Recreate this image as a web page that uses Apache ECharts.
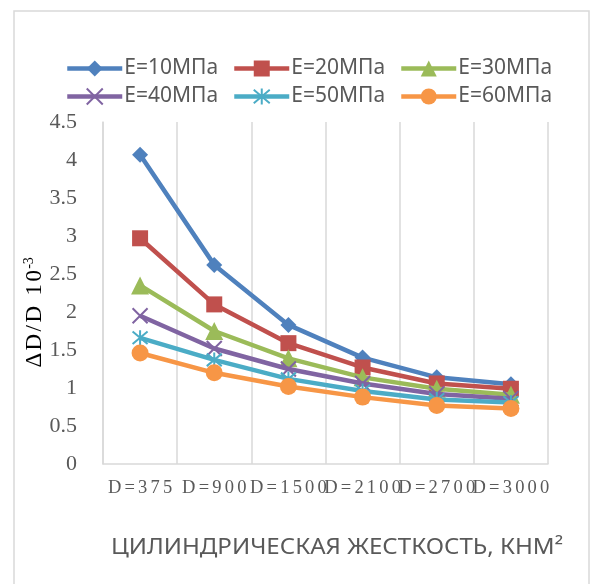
<!DOCTYPE html>
<html>
<head>
<meta charset="utf-8">
<script src="https://cdn.jsdelivr.net/npm/echarts@6/dist/echarts.min.js"></script>
<style>
  html, body { margin: 0; padding: 0; background: #fff; }
  #chart { width: 591px; height: 584px; }
</style>
</head>
<body>
<div id="chart"></div>
<script>
// Cylindrical stiffness categories (x axis)
const categories = ['D=375', 'D=900', 'D=1500', 'D=2100', 'D=2700', 'D=3000'];

// Series names (soil modulus)
const seriesNames = ['E=10МПа', 'E=20МПа', 'E=30МПа', 'E=40МПа', 'E=50МПа', 'E=60МПа'];

// ΔD/D ×10^-3 for each modulus
const e10 = [4.07, 2.62, 1.83, 1.40, 1.14, 1.05];
const e20 = [2.97, 2.10, 1.59, 1.27, 1.06, 0.99];
const e30 = [2.35, 1.75, 1.39, 1.14, 0.99, 0.91];
const e40 = [1.95, 1.52, 1.25, 1.06, 0.92, 0.86];
const e50 = [1.66, 1.37, 1.12, 0.96, 0.85, 0.81];
const e60 = [1.46, 1.20, 1.02, 0.88, 0.77, 0.73];

// Y axis range
const yMin = 0, yMax = 4.5, yStep = 0.5;

const seriesData = [e10, e20, e30, e40, e50, e60];
const colors = ['#4f81bd', '#c0504d', '#9bbb59', '#8064a2', '#4bacc6', '#f79646'];
const crossPath = 'path://M0,0L10,10M10,0L0,10';
const starPath = 'path://M0,0L10,10M10,0L0,10M5,-1L5,11';
const symbols = ['diamond', 'rect', 'triangle', crossPath, starPath, 'circle'];
const symbolSizes = [16, 16, 18, 15, 15, 17];

// spaced-out glyphs: every character gets its own padded rich fragment
function spaced(str, style) {
  return str.split('').map(ch => '{' + style + '|' + ch + '}').join('');
}

const chart = echarts.init(document.getElementById('chart'));

const series = seriesData.map((data, i) => {
  const stroked = i === 3 || i === 4;
  return {
    name: seriesNames[i],
    type: 'line',
    data: data,
    symbol: symbols[i],
    symbolSize: symbolSizes[i],
    showAllSymbol: true,
    lineStyle: { color: colors[i], width: 4.5 },
    itemStyle: stroked
      ? { color: colors[i], borderColor: colors[i], borderWidth: 2 }
      : { color: colors[i], borderWidth: 0 },
    emphasis: { disabled: true },
    z: 2 + i
  };
});

const legends = seriesNames.map((name, i) => ({
  data: [name],
  left: 65 + 167 * (i % 3),
  top: 58 + 28 * Math.floor(i / 3),
  padding: 0,
  itemWidth: 55,
  itemHeight: 20,
  itemGap: 4,
  selectedMode: false,
  lineStyle: { width: 4.5 },
  textStyle: { fontFamily: 'Noto Sans', fontSize: 21, color: '#595959', padding: [0, 0, 0, -3] }
}));

chart.setOption({
  animation: false,
  backgroundColor: '#ffffff',
  color: colors,
  legend: legends,
  grid: { left: 103, right: 43, top: 122, bottom: 120, containLabel: false },
  xAxis: {
    type: 'category',
    data: categories,
    boundaryGap: true,
    axisLine: { show: true, lineStyle: { color: '#d9d9d9', width: 1.5 } },
    axisTick: { show: false },
    splitLine: { show: true, lineStyle: { color: '#d9d9d9', width: 1.5 } },
    axisLabel: {
      interval: 0,
      margin: 15,
      formatter: v => spaced(v, 'c'),
      rich: {
        c: { fontFamily: 'Liberation Serif', fontSize: 18.5, color: '#595959', padding: [0, 1.6, 0, 1.6] }
      }
    }
  },
  yAxis: {
    type: 'value',
    min: yMin,
    max: yMax,
    interval: yStep,
    axisLine: { show: true, lineStyle: { color: '#d9d9d9', width: 1.5 } },
    axisTick: { show: false },
    splitLine: { show: false },
    axisLabel: {
      margin: 26,
      fontFamily: 'Liberation Serif',
      fontSize: 22,
      color: '#595959'
    }
  },
  graphic: [
    {
      type: 'rect',
      silent: true,
      shape: { x: 14, y: 11, width: 575, height: 600 },
      style: { fill: 'none', stroke: '#d9d9d9', lineWidth: 1.5 },
      z: -1
    },
    {
      type: 'text',
      silent: true,
      x: 35,
      y: 313,
      rotation: Math.PI / 2,
      style: {
        text: spaced('ΔD/D 10', 'a') + '{s|-3}',
        align: 'center',
        verticalAlign: 'middle',
        rich: {
          a: { fontFamily: 'Liberation Serif', fontSize: 23, color: '#595959', lineHeight: 26, padding: [0, 1.2, 0, 1.2] },
          s: { fontFamily: 'Liberation Serif', fontSize: 14, color: '#595959', lineHeight: 26, verticalAlign: 'top' }
        }
      }
    },
    {
      type: 'text',
      silent: true,
      x: 337,
      y: 548,
      scaleX: 1.07,
      style: {
        text: 'ЦИЛИНДРИЧЕСКАЯ ЖЕСТКОСТЬ, КНМ²',
        align: 'center',
        verticalAlign: 'middle',
        fontFamily: 'Noto Sans',
        fontSize: 22.5,
        fill: '#595959'
      }
    }
  ],
  series: series
});
</script>
</body>
</html>
